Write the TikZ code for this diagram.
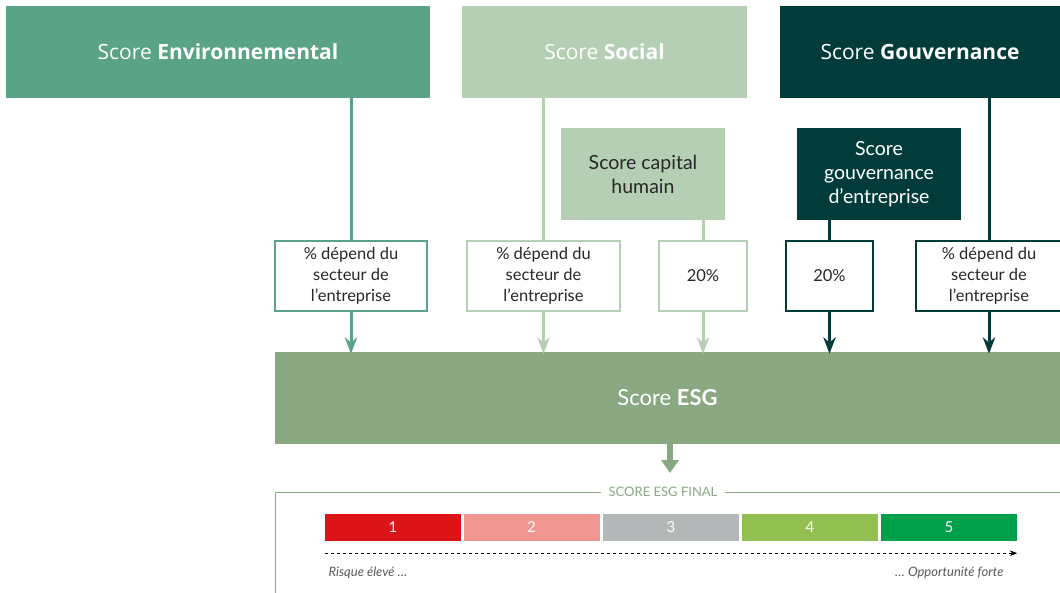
\documentclass[tikz,border=0pt]{standalone}
\usepackage{fontspec}
\setmainfont{Lato}
\newfontfamily\headfont{Open Sans}
\usepackage{tikz}
\usetikzlibrary{positioning}
\usetikzlibrary{arrows.meta}

\definecolor{envgreen}{RGB}{90,163,134}
\definecolor{socgreen}{RGB}{181,207,180}
\definecolor{govteal}{RGB}{2,60,58}
\definecolor{esggreen}{RGB}{138,168,130}
\definecolor{txtgrey}{RGB}{40,40,40}
\definecolor{noteone}{RGB}{220,20,23}
\definecolor{notetwo}{RGB}{241,149,144}
\definecolor{notethree}{RGB}{181,184,184}
\definecolor{notefour}{RGB}{146,192,81}
\definecolor{notefive}{RGB}{0,160,74}

\begin{document}
\begin{tikzpicture}[%
  x=1pt, y=-1pt,
  >={Stealth[scale=1.0]},
  pillar/.style={inner sep=0pt, minimum height=92pt, text=white,
    font=\headfont\fontsize{21}{25}\selectfont},
  subbox/.style={inner sep=0pt, minimum width=164pt, minimum height=92pt,
    align=center, font=\fontsize{19.5}{24}\selectfont},
  weight/.style={draw, line width=1.2pt, fill=white, inner sep=0pt,
    minimum height=70pt, align=center, text=txtgrey,
    font=\fontsize{16.5}{21}\selectfont},
  link/.style={line width=3pt},
  note/.style={inner sep=0pt, minimum width=136pt, minimum height=27pt,
    text=white, font=\fontsize{15}{17}\selectfont},
  scaletext/.style={text=black!65, font=\itshape\fontsize{13}{15}\selectfont},
]

  \useasboundingbox (0,0) rectangle (1060,593);

  \node[pillar, fill=envgreen, minimum width=424pt] (env) at (218,52)
    {Score \textbf{Environnemental}};
  \node[pillar, fill=socgreen, minimum width=285pt] (soc) at (604.5,52)
    {Score \textbf{Social}};
  \node[pillar, fill=govteal, minimum width=280pt] (gov) at (920,52)
    {Score \textbf{Gouvernance}};

  \node[subbox, fill=socgreen, text=txtgrey] (capH) at (643,174)
    {Score capital\\humain};
  \node[subbox, fill=govteal, text=white] (gouvE) at (879,174)
    {Score\\gouvernance\\d'entreprise};

  \node[weight, draw=envgreen, minimum width=152pt] (envPct) at (351,276)
    {\% dépend du\\secteur de\\l'entreprise};
  \node[weight, draw=socgreen, minimum width=153pt] (socPct) at (543.5,276)
    {\% dépend du\\secteur de\\l'entreprise};
  \node[weight, draw=socgreen, minimum width=88pt] (socCap) at (703,276) {20\%};
  \node[weight, draw=govteal, minimum width=87pt] (gouvCap) at (829.5,276) {20\%};
  \node[weight, draw=govteal, minimum width=146pt] (gouvPct) at (989,276)
    {\% dépend du\\secteur de\\l'entreprise};

  \node[pillar, fill=esggreen, minimum width=785pt,
    font=\fontsize{22}{26}\selectfont] (esg) at (667.5,398) {Score \textbf{ESG}};

  \draw[link, envgreen] (envPct.north) -- (envPct.north |- env.south);
  \draw[link, envgreen, ->] (envPct.south) -- ([yshift=-2pt]envPct.south |- esg.north);
  \draw[link, socgreen] (socPct.north) -- (socPct.north |- soc.south);
  \draw[link, socgreen, ->] (socPct.south) -- ([yshift=-2pt]socPct.south |- esg.north);
  \draw[link, socgreen] (socCap.north) -- (socCap.north |- capH.south);
  \draw[link, socgreen, ->] (socCap.south) -- ([yshift=-2pt]socCap.south |- esg.north);
  \draw[link, govteal] (gouvCap.north) -- (gouvCap.north |- gouvE.south);
  \draw[link, govteal, ->] (gouvCap.south) -- ([yshift=-2pt]gouvCap.south |- esg.north);
  \draw[link, govteal] (gouvPct.north) -- (gouvPct.north |- gov.south);
  \draw[link, govteal, ->] (gouvPct.south) -- ([yshift=-2pt]gouvPct.south |- esg.north);

  \coordinate (final) at (670,473);
  \draw[esggreen, line width=6pt, -{Triangle[width=17pt, length=13pt]}]
    (final |- esg.south) -- (final);

  \draw[esggreen, line width=1pt] (275,593) -- (275,492) -- (1060,492);
  \node[fill=white, text=esggreen, inner xsep=8pt, inner ysep=3pt,
    font=\fontsize{13}{15}\selectfont] (finalLbl) at (663,492) {SCORE ESG FINAL};

  \node[note, fill=noteone] (n1) at (393,527.5) {1};
  \node[note, fill=notetwo] (n2) at (531.5,527.5) {2};
  \node[note, fill=notethree] (n3) at (671,527.5) {3};
  \node[note, fill=notefour] (n4) at (810,527.5) {4};
  \node[note, fill=notefive] (n5) at (949,527.5) {5};

  \draw[dashed, line width=1pt, ->] ([yshift=-12pt]n1.south west)
    -- ([yshift=-12pt]n5.south east);

  \node[scaletext, anchor=west] (risk) at (325,573) {Risque élevé \dots};
  \node[scaletext, anchor=east] (opp) at (1007,573) {\dots\ Opportunité forte};

\end{tikzpicture}
\end{document}
